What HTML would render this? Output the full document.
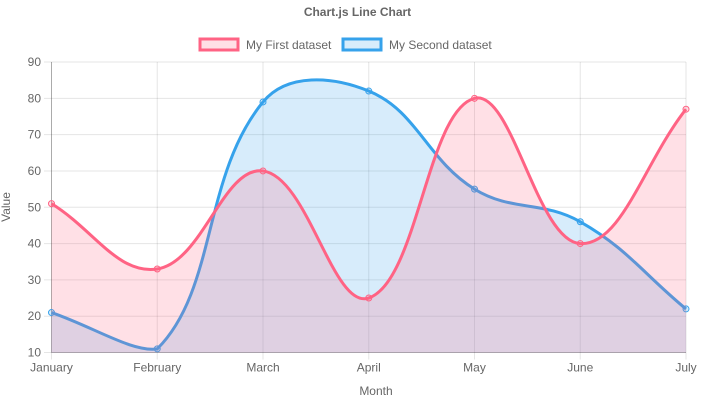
<!DOCTYPE html>
<html><head><meta charset="utf-8"><style>
html,body{margin:0;padding:0;background:#fff;width:715px;height:409px;overflow:hidden}
svg text{font-family:"Liberation Sans",Arial,sans-serif;fill:#666}
</style></head><body>
<svg id="c" width="715" height="409" xmlns="http://www.w3.org/2000/svg">
<text x="357.5" y="16" text-anchor="middle" font-size="12" font-weight="bold">Chart.js Line Chart</text>
<rect x="200" y="39" width="38" height="11" fill="rgba(255,99,132,0.2)" stroke="rgb(255,99,132)" stroke-width="3"/>
<text x="246" y="49" font-size="12">My First dataset</text>
<rect x="343" y="39" width="38" height="11" fill="rgba(54,162,235,0.2)" stroke="rgb(54,162,235)" stroke-width="3"/>
<text x="389" y="49" font-size="12">My Second dataset</text>
<g id="grid"></g>
<g id="data"></g>
<text x="376" y="395" text-anchor="middle" font-size="12">Month</text>
<text transform="translate(10,207) rotate(-90)" text-anchor="middle" font-size="12">Value</text>
</svg>
<script>
var L=51.5,R=686,T=62,B=352.5;
var xs=[],labels=["January","February","March","April","May","June","July"];
for(var i=0;i<7;i++)xs.push(L+(R-L)*i/6);
function Y(v){return B-(v-10)*(B-T)/80;}
var g='';
for(var v=10;v<=90;v+=10){var y=Y(v);g+='<line x1="44" x2="'+R+'" y1="'+y+'" y2="'+y+'" stroke="rgba(0,0,0,0.1)"/>';
g+='<text x="41" y="'+(y+4)+'" text-anchor="end" font-size="12">'+v+'</text>';}
for(var i=0;i<7;i++){g+='<line x1="'+xs[i]+'" x2="'+xs[i]+'" y1="'+T+'" y2="'+(B+7)+'" stroke="rgba(0,0,0,0.1)"/>';
g+='<text x="'+xs[i]+'" y="'+(B+19)+'" text-anchor="middle" font-size="12">'+labels[i]+'</text>';}
g+='<line x1="'+L+'" x2="'+L+'" y1="'+T+'" y2="'+B+'" stroke="rgba(0,0,0,0.25)"/>';
g+='<line x1="'+L+'" x2="'+R+'" y1="'+B+'" y2="'+B+'" stroke="rgba(0,0,0,0.25)"/>';
document.getElementById('grid').innerHTML=g;
function path(d){
 var p=d.map(function(v,i){return [xs[i],Y(v)];}),cps=[];
 for(var i=0;i<p.length;i++){
  var pr=p[Math.max(0,i-1)],c=p[i],nx=p[Math.min(p.length-1,i+1)];
  var d01=Math.hypot(c[0]-pr[0],c[1]-pr[1]),d12=Math.hypot(nx[0]-c[0],nx[1]-c[1]);
  var s01=d01/(d01+d12)||0,s12=d12/(d01+d12)||0,fa=0.4*s01,fb=0.4*s12;
  var a=[c[0]-fa*(nx[0]-pr[0]),c[1]-fa*(nx[1]-pr[1])],b=[c[0]+fb*(nx[0]-pr[0]),c[1]+fb*(nx[1]-pr[1])];
  a[1]=Math.min(B,Math.max(T,a[1]));b[1]=Math.min(B,Math.max(T,b[1]));
  cps.push([a,b]);}
 var s='M'+p[0][0]+' '+p[0][1];
 for(var i=1;i<p.length;i++){s+=' C'+cps[i-1][1][0]+' '+cps[i-1][1][1]+' '+cps[i][0][0]+' '+cps[i][0][1]+' '+p[i][0]+' '+p[i][1];}
 return {s:s,p:p};}
var sets=[[[21,11,79,82,55,46,22],'54,162,235'],[[51,33,60,25,80,40,77],'255,99,132']];
var h='';
sets.forEach(function(ds){var r=path(ds[0]);
 h+='<path d="'+r.s+' L'+R+' '+B+' L'+L+' '+B+' Z" fill="rgba('+ds[1]+',0.2)"/>';
 h+='<path d="'+r.s+'" fill="none" stroke="rgb('+ds[1]+')" stroke-width="3"/>';
 r.p.forEach(function(q){h+='<circle cx="'+q[0]+'" cy="'+q[1]+'" r="3" fill="rgba('+ds[1]+',0.2)" stroke="rgb('+ds[1]+')"/>';});});
document.getElementById('data').innerHTML=h;
</script>
</body></html>
